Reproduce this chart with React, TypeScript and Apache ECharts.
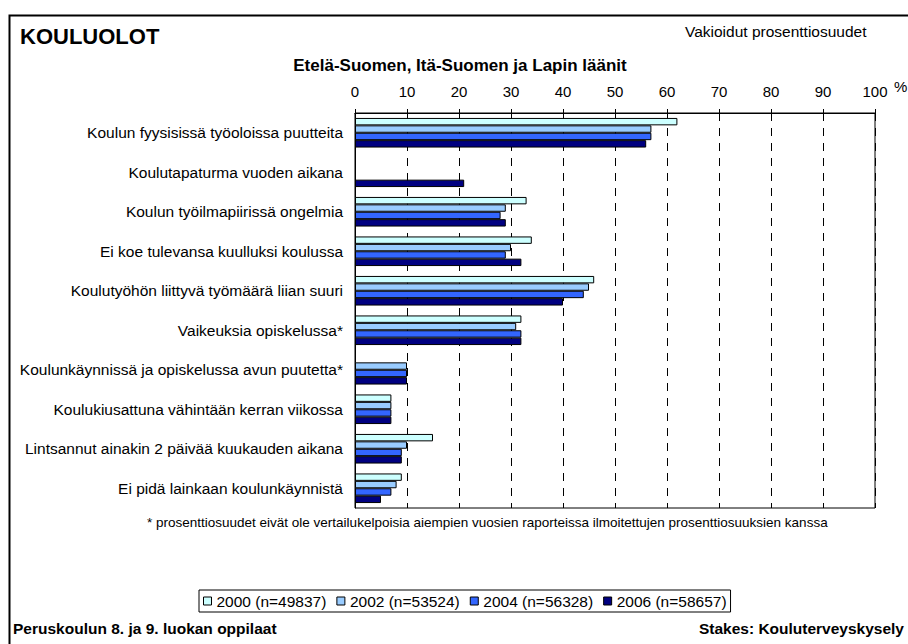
import React, { useEffect, useRef } from "react";
import * as echarts from "echarts";

const categories = [
  "Koulun fyysisissä työoloissa puutteita",
  "Koulutapaturma vuoden aikana",
  "Koulun työilmapiirissä ongelmia",
  "Ei koe tulevansa kuulluksi koulussa",
  "Koulutyöhön liittyvä työmäärä liian suuri",
  "Vaikeuksia opiskelussa*",
  "Koulunkäynnissä ja opiskelussa avun puutetta*",
  "Koulukiusattuna vähintään kerran viikossa",
  "Lintsannut ainakin 2 päivää kuukauden aikana",
  "Ei pidä lainkaan koulunkäynnistä",
];

const seriesNames = ["2000 (n=49837)", "2002 (n=53524)", "2004 (n=56328)", "2006 (n=58657)"];
const values2000 = [62, null, 33, 34, 46, 32, null, 7, 15, 9];
const values2002 = [57, null, 29, 30, 45, 31, 10, 7, 10, 8];
const values2004 = [57, null, 28, 29, 44, 32, 10, 7, 9, 7];
const values2006 = [56, 21, 29, 32, 40, 32, 10, 7, 9, 5];
const seriesColors = ["#CCFFFF", "#99CCFF", "#3366FF", "#000080"];
const xTicks = { min: 0, max: 100, interval: 10 };

const FONT = '"Liberation Sans", Arial, sans-serif';

export default function App() {
  const ref = useRef<HTMLDivElement>(null);
  useEffect(() => {
    if (!ref.current) return;
    const chart = echarts.init(ref.current, null, { renderer: "svg" });
    const allValues = [values2000, values2002, values2004, values2006];
    chart.setOption({
      animation: false,
      backgroundColor: "#fff",
      textStyle: { fontFamily: FONT, color: "#000" },
      grid: {
        left: 355,
        right: 33,
        top: 113,
        bottom: 136,
        show: true,
        borderColor: "#000",
        borderWidth: 1,
        backgroundColor: "#fff",
      },
      xAxis: {
        type: "value",
        position: "top",
        min: xTicks.min,
        max: xTicks.max,
        interval: xTicks.interval,
        axisLine: { show: true, lineStyle: { color: "#000", width: 1 } },
        axisTick: { show: true, length: 4, inside: false, lineStyle: { color: "#000" } },
        axisLabel: { fontSize: 15, color: "#000", fontFamily: FONT, margin: 14 },
        splitLine: { show: true, lineStyle: { color: "#000", type: [8, 7], width: 1 } },
      },
      yAxis: {
        type: "category",
        data: categories,
        inverse: true,
        axisLine: { show: true, lineStyle: { color: "#000" } },
        axisTick: { show: false },
        axisLabel: { fontSize: 15.5, color: "#000", fontFamily: FONT, margin: 12 },
        splitLine: { show: false },
      },
      legend: {
        left: 199,
        top: 590,
        orient: "horizontal",
        padding: [3, 4, 3, 4],
        itemWidth: 8,
        itemHeight: 8,
        itemGap: 10,
        borderColor: "#000",
        borderWidth: 1,
        icon: "rect",
        itemStyle: { borderColor: "#000", borderWidth: 1 },
        textStyle: { fontSize: 15.5, color: "#000", fontFamily: FONT },
        data: seriesNames,
      },
      series: seriesNames.map((name, i) => ({
        name,
        type: "bar",
        data: allValues[i],
        barWidth: 7.4,
        barGap: "0%",
        itemStyle: { color: seriesColors[i], borderColor: "#000", borderWidth: 1 },
      })),
      graphic: [
        {
          type: "rect",
          shape: { x: 9.5, y: 15.5, width: 960, height: 700 },
          style: { fill: "none", stroke: "#000", lineWidth: 2 },
          silent: true,
        },
        {
          type: "text",
          x: 20,
          y: 36,
          style: { text: "KOULUOLOT", font: `bold 22px ${FONT}`, fill: "#000", verticalAlign: "middle" },
        },
        {
          type: "text",
          x: 685,
          y: 31,
          style: { text: "Vakioidut prosenttiosuudet", font: `15.5px ${FONT}`, fill: "#000", verticalAlign: "middle" },
        },
        {
          type: "text",
          x: 460,
          y: 65,
          style: {
            text: "Etelä-Suomen, Itä-Suomen ja Lapin läänit",
            font: `bold 17px ${FONT}`,
            fill: "#000",
            align: "center",
            verticalAlign: "middle",
          },
        },
        {
          type: "text",
          x: 894,
          y: 86,
          style: { text: "%", font: `15px ${FONT}`, fill: "#000", verticalAlign: "middle" },
        },
        {
          type: "text",
          x: 147,
          y: 522,
          style: {
            text: "* prosenttiosuudet eivät ole vertailukelpoisia aiempien vuosien raporteissa ilmoitettujen prosenttiosuuksien kanssa",
            font: `13.5px ${FONT}`,
            fill: "#000",
            verticalAlign: "middle",
          },
        },
        {
          type: "text",
          x: 13,
          y: 628,
          style: { text: "Peruskoulun 8. ja 9. luokan oppilaat", font: `bold 15.5px ${FONT}`, fill: "#000", verticalAlign: "middle" },
        },
        {
          type: "text",
          x: 904,
          y: 628,
          style: {
            text: "Stakes: Kouluterveyskysely",
            font: `bold 15.5px ${FONT}`,
            fill: "#000",
            align: "right",
            verticalAlign: "middle",
          },
        },
      ],
    });
    return () => chart.dispose();
  }, []);
  return (
    <div
      ref={ref}
      style={{ position: "absolute", left: 0, top: 0, width: 908, height: 644 }}
    />
  );
}
